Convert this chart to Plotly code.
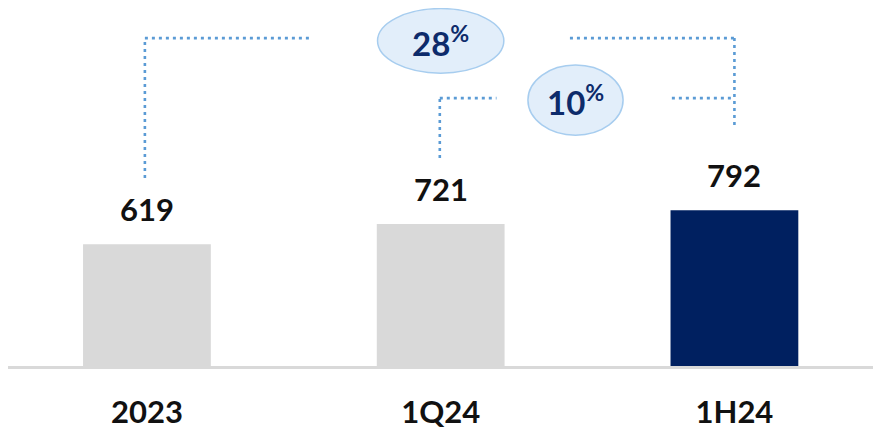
import plotly.graph_objects as go

# data
categories = ['2023', '1Q24', '1H24']
values = [619, 721, 792]
bar_colors = ['#d9d9d9', '#d9d9d9', '#002060']
growth_labels = ['28', '10']

FONT = 'Lato'
NAVY = '#0d2b6b'
DOT = '#5b9bd5'

fig = go.Figure()

fig.add_trace(go.Bar(
    x=categories,
    y=values,
    marker=dict(color=bar_colors, line=dict(width=0)),
    width=0.435,
    hoverinfo='skip',
))

# value labels above bars (x as category index so '2023' isn't read as a number)
for i, v in enumerate(values):
    fig.add_annotation(x=i, y=v, text=f'<b>{v}</b>', showarrow=False,
                       yanchor='bottom', yshift=14,
                       font=dict(family=FONT, size=31, color='#111111'))

# dotted connector brackets (y in data units)
lvl_top = 1666
lvl_mid = 1361
line = dict(color=DOT, width=2.6, dash='3px,4px')
segments = [
    # 2023 -> 28% bubble
    (-0.007, values[0] + 336, -0.007, lvl_top),
    (-0.007, lvl_top, 0.555, lvl_top),
    # 28% bubble -> 1H24
    (1.44, lvl_top, 2.0, lvl_top),
    (2.0, lvl_top, 2.0, values[2] + 417),
    # 1Q24 -> 10% bubble
    (0.997, values[1] + 336, 0.997, lvl_mid),
    (0.997, lvl_mid, 1.19, lvl_mid),
    # 10% bubble -> 1H24
    (1.787, lvl_mid, 2.0, lvl_mid),
]
for x0, y0, x1, y1 in segments:
    fig.add_shape(type='line', x0=x0, y0=y0, x1=x1, y1=y1, xref='x', yref='y', line=line)

# growth bubbles
bubbles = [
    (0.785, 1488, 1.215, 1816, growth_labels[0]),
    (1.297, 1173, 1.621, 1529, growth_labels[1]),
]
for x0, y0, x1, y1, lab in bubbles:
    fig.add_shape(type='circle', x0=x0, y0=y0, x1=x1, y1=y1, xref='x', yref='y',
                  fillcolor='#e2eefa', line=dict(color='#a7cdef', width=1.5))
    fig.add_annotation(x=(x0 + x1) / 2, y=(y0 + y1) / 2, xref='x', yref='y',
                       text=f'<b>{lab}<sup>%</sup></b>', showarrow=False,
                       font=dict(family=FONT, size=33, color=NAVY))

# page has an 8px body margin, so the figure is 8px smaller than the window
fig.update_layout(
    width=873, height=425,
    margin=dict(l=0, r=0, t=0, b=67),
    paper_bgcolor='white', plot_bgcolor='white',
    showlegend=False,
)
fig.update_xaxes(
    type='category', range=[-0.473, 2.499], automargin=False,
    showline=True, linecolor='#d9d9d9', linewidth=3, layer='below traces',
    ticks='', showgrid=False, ticklabelstandoff=17,
    tickfont=dict(family=FONT, size=31, color='#111111', weight='bold'),
)
fig.update_yaxes(range=[0, 1819], visible=False, showgrid=False, zeroline=False,
                 automargin=False)

fig.write_html('out.html')
